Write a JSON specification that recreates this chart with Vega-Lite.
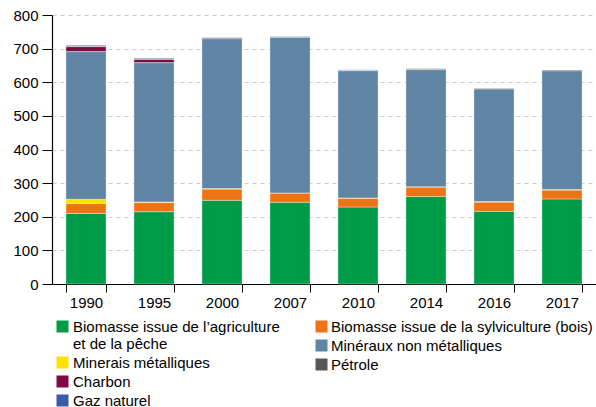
{
  "$schema": "https://vega.github.io/schema/vega-lite/v6.json",
  "width": 544,
  "height": 269,
  "autosize": "none",
  "padding": {"left": 52, "top": 15, "right": 0, "bottom": 123},
  "background": "white",
  "config": {"font": "Liberation Sans", "view": {"stroke": null}},
  "datasets": {
    "main": [
      {"year": "1990", "cat": "Biomasse issue de l’agriculture et de la pêche", "value": 210},
      {"year": "1990", "cat": "Biomasse issue de la sylviculture (bois)", "value": 29},
      {"year": "1990", "cat": "Minerais métalliques", "value": 13},
      {"year": "1990", "cat": "Minéraux non métalliques", "value": 439},
      {"year": "1990", "cat": "Charbon", "value": 15},
      {"year": "1990", "cat": "Gaz naturel", "value": 2},
      {"year": "1990", "cat": "Pétrole", "value": 2},
      {"year": "1995", "cat": "Biomasse issue de l’agriculture et de la pêche", "value": 215},
      {"year": "1995", "cat": "Biomasse issue de la sylviculture (bois)", "value": 27},
      {"year": "1995", "cat": "Minerais métalliques", "value": 2},
      {"year": "1995", "cat": "Minéraux non métalliques", "value": 414},
      {"year": "1995", "cat": "Charbon", "value": 10},
      {"year": "1995", "cat": "Gaz naturel", "value": 2},
      {"year": "1995", "cat": "Pétrole", "value": 2},
      {"year": "2000", "cat": "Biomasse issue de l’agriculture et de la pêche", "value": 249},
      {"year": "2000", "cat": "Biomasse issue de la sylviculture (bois)", "value": 33},
      {"year": "2000", "cat": "Minerais métalliques", "value": 2},
      {"year": "2000", "cat": "Minéraux non métalliques", "value": 445},
      {"year": "2000", "cat": "Charbon", "value": 3},
      {"year": "2000", "cat": "Gaz naturel", "value": 1},
      {"year": "2000", "cat": "Pétrole", "value": 1},
      {"year": "2007", "cat": "Biomasse issue de l’agriculture et de la pêche", "value": 243},
      {"year": "2007", "cat": "Biomasse issue de la sylviculture (bois)", "value": 27},
      {"year": "2007", "cat": "Minerais métalliques", "value": 1},
      {"year": "2007", "cat": "Minéraux non métalliques", "value": 462},
      {"year": "2007", "cat": "Charbon", "value": 1},
      {"year": "2007", "cat": "Gaz naturel", "value": 2},
      {"year": "2007", "cat": "Pétrole", "value": 1},
      {"year": "2010", "cat": "Biomasse issue de l’agriculture et de la pêche", "value": 229},
      {"year": "2010", "cat": "Biomasse issue de la sylviculture (bois)", "value": 25},
      {"year": "2010", "cat": "Minerais métalliques", "value": 2},
      {"year": "2010", "cat": "Minéraux non métalliques", "value": 378},
      {"year": "2010", "cat": "Charbon", "value": 1},
      {"year": "2010", "cat": "Gaz naturel", "value": 2},
      {"year": "2010", "cat": "Pétrole", "value": 0},
      {"year": "2014", "cat": "Biomasse issue de l’agriculture et de la pêche", "value": 260},
      {"year": "2014", "cat": "Biomasse issue de la sylviculture (bois)", "value": 28},
      {"year": "2014", "cat": "Minerais métalliques", "value": 1},
      {"year": "2014", "cat": "Minéraux non métalliques", "value": 348},
      {"year": "2014", "cat": "Charbon", "value": 1},
      {"year": "2014", "cat": "Gaz naturel", "value": 0},
      {"year": "2014", "cat": "Pétrole", "value": 2},
      {"year": "2016", "cat": "Biomasse issue de l’agriculture et de la pêche", "value": 216},
      {"year": "2016", "cat": "Biomasse issue de la sylviculture (bois)", "value": 27},
      {"year": "2016", "cat": "Minerais métalliques", "value": 2},
      {"year": "2016", "cat": "Minéraux non métalliques", "value": 335},
      {"year": "2016", "cat": "Charbon", "value": 0.5},
      {"year": "2016", "cat": "Gaz naturel", "value": 0},
      {"year": "2016", "cat": "Pétrole", "value": 1.5},
      {"year": "2017", "cat": "Biomasse issue de l’agriculture et de la pêche", "value": 253},
      {"year": "2017", "cat": "Biomasse issue de la sylviculture (bois)", "value": 26},
      {"year": "2017", "cat": "Minerais métalliques", "value": 2},
      {"year": "2017", "cat": "Minéraux non métalliques", "value": 353},
      {"year": "2017", "cat": "Charbon", "value": 0.5},
      {"year": "2017", "cat": "Gaz naturel", "value": 0},
      {"year": "2017", "cat": "Pétrole", "value": 2}
    ]
  },
  "data": {"name": "main"},
  "transform": [
    {"calculate": "indexof(['Biomasse issue de l’agriculture et de la pêche','Biomasse issue de la sylviculture (bois)','Minerais métalliques','Minéraux non métalliques','Charbon','Gaz naturel','Pétrole'], datum.cat)", "as": "order"},
    {"stack": "value", "groupby": ["year"], "sort": [{"field": "order", "order": "ascending"}], "as": ["v0", "v1"]}
  ],
  "encoding": {
    "x": {
      "field": "year", "type": "ordinal",
      "scale": {"paddingInner": 0.41, "paddingOuter": 0.205},
      "axis": {
        "title": null, "labelAngle": 0, "tickBand": "extent", "tickSize": 8,
        "tickColor": "#000", "tickWidth": 1, "domainColor": "#000", "domainWidth": 1.2,
        "labelFontSize": 15, "labelColor": "#000", "labelPadding": 3, "grid": false
      }
    },
    "y": {
      "field": "v1", "type": "quantitative",
      "scale": {"domain": [0, 800], "nice": false},
      "axis": {
        "title": null, "values": [0, 100, 200, 300, 400, 500, 600, 700, 800],
        "tickSize": 10, "tickColor": "#000", "tickWidth": 1, "domainColor": "#000", "domainWidth": 1.2,
        "labelFontSize": 15, "labelColor": "#000", "labelPadding": 4,
        "grid": true, "gridColor": "#cccccc", "gridDash": [4, 4], "gridWidth": 1
      }
    },
    "y2": {"field": "v0"}
  },
  "layer": [
    {
      "transform": [{"filter": {"field": "cat", "oneOf": ["Biomasse issue de l’agriculture et de la pêche", "Minerais métalliques", "Charbon", "Gaz naturel"]}}],
      "mark": {"type": "bar", "stroke": "#ffffff", "strokeOpacity": 0.45, "strokeWidth": 0.8},
      "encoding": {
        "color": {
          "field": "cat", "type": "nominal",
          "scale": {
            "domain": ["Biomasse issue de l’agriculture et de la pêche", "Minerais métalliques", "Charbon", "Gaz naturel"],
            "range": ["#009b48", "#ffe100", "#7f0b3f", "#3b5ca8"]
          },
          "legend": {
            "title": null, "orient": "none", "legendX": 3, "legendY": 304, "padding": 0,
            "symbolType": "square", "symbolSize": 144, "symbolStrokeWidth": 0, "symbolOpacity": 1,
            "labelFontSize": 15, "labelColor": "#000", "labelLimit": 400, "labelOffset": 3,
            "rowPadding": 3,
            "labelExpr": "datum.label == 'Biomasse issue de l’agriculture et de la pêche' ? ['Biomasse issue de l’agriculture', 'et de la pêche'] : datum.label"
          }
        }
      }
    },
    {
      "transform": [{"filter": {"field": "cat", "oneOf": ["Biomasse issue de la sylviculture (bois)", "Minéraux non métalliques", "Pétrole"]}}],
      "mark": {"type": "bar", "stroke": "#ffffff", "strokeOpacity": 0.45, "strokeWidth": 0.8},
      "encoding": {
        "color": {
          "field": "cat", "type": "nominal",
          "scale": {
            "domain": ["Biomasse issue de la sylviculture (bois)", "Minéraux non métalliques", "Pétrole"],
            "range": ["#ee7314", "#5f84a4", "#575757"]
          },
          "legend": {
            "title": null, "orient": "none", "legendX": 262, "legendY": 304, "padding": 0,
            "symbolType": "square", "symbolSize": 144, "symbolStrokeWidth": 0, "symbolOpacity": 1,
            "labelFontSize": 15, "labelColor": "#000", "labelLimit": 400, "labelOffset": 2,
            "rowPadding": 3
          }
        }
      }
    }
  ],
  "resolve": {"scale": {"color": "independent"}, "legend": {"color": "independent"}}
}
